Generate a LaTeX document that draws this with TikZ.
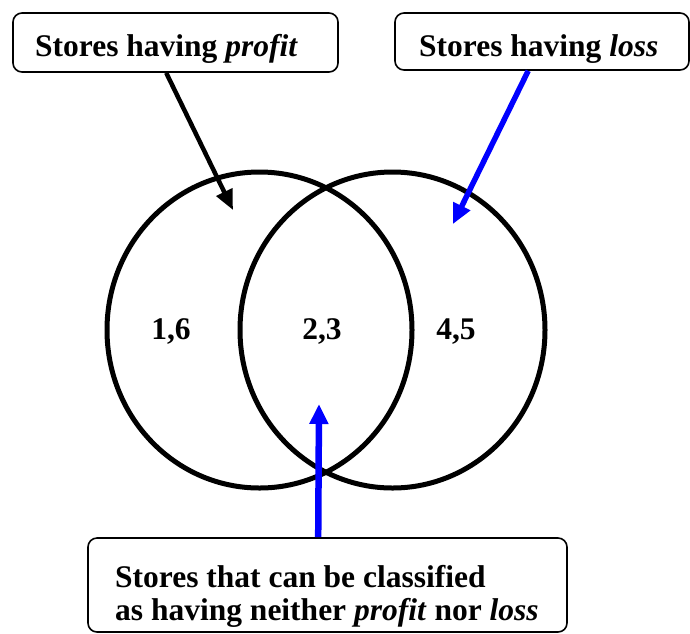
\documentclass[tikz,border=0pt]{standalone}
\usepackage{fontspec}
\setmainfont{Liberation Serif}
\usetikzlibrary{arrows.meta}
\definecolor{arrowblue}{RGB}{0,0,255}
\tikzset{
  setcircle/.style={draw=black, line width=5pt},
  labelbox/.style={draw=black, line width=1.6pt, rounded corners=9pt, inner sep=0pt},
  boxtext/.style={inner sep=0pt, anchor=base west, font=\fontsize{31.5}{33}\selectfont\bfseries, align=left},
  numtext/.style={inner sep=0pt, anchor=base, font=\fontsize{31.5}{33}\selectfont\bfseries},
  blackarrow/.style={draw=black, line width=4.5pt, -{Triangle[length=20pt,width=17pt]}},
  bluearrow/.style={draw=arrowblue, line width=5.5pt, -{Triangle[length=20pt,width=18pt]}},
}
\begin{document}
\begin{tikzpicture}[x=1pt,y=-1pt]
\useasboundingbox (0,0) rectangle (690,633);
% circles
\draw[setcircle] (259.5,330) ellipse [x radius=152.5, y radius=158];
\draw[setcircle] (392.5,330) ellipse [x radius=152.5, y radius=158];
% numbers
\node[numtext] (n16) at (171,339) {1,6};
\node[numtext] (n23) at (322,339) {2,3};
\node[numtext] (n45) at (456,339) {4,5};
% boxes
\node[labelbox, minimum width=325pt, minimum height=59pt] (tl) at (175.5,42.5) {};
\node[labelbox, minimum width=294pt, minimum height=57pt] (tr) at (542,41.5) {};
\node[labelbox, minimum width=479pt, minimum height=94pt] (bt) at (327.5,585) {};
% box texts
\node[boxtext] (tlt) at (35,56) {Stores having \textit{profit}};
\node[boxtext] (trt) at (419,56) {Stores having \textit{loss}};
\node[boxtext] (btt1) at (115,587) {Stores that can be classified};
\node[boxtext] (btt2) at (115,620) {as having neither \textit{profit} nor \textit{loss}};
% arrow targets
\coordinate (tipL) at (233,210);
\coordinate (tipR) at (453,224);
\coordinate (tipM) at (319,404);
% arrows
\draw[blackarrow] ([xshift=154pt]tl.south west) -- (tipL);
\draw[bluearrow] ([xshift=134pt]tr.south west) -- (tipR);
\draw[bluearrow, line width=6.5pt] ([xshift=231pt]bt.north west) -- (tipM);
\end{tikzpicture}
\end{document}
